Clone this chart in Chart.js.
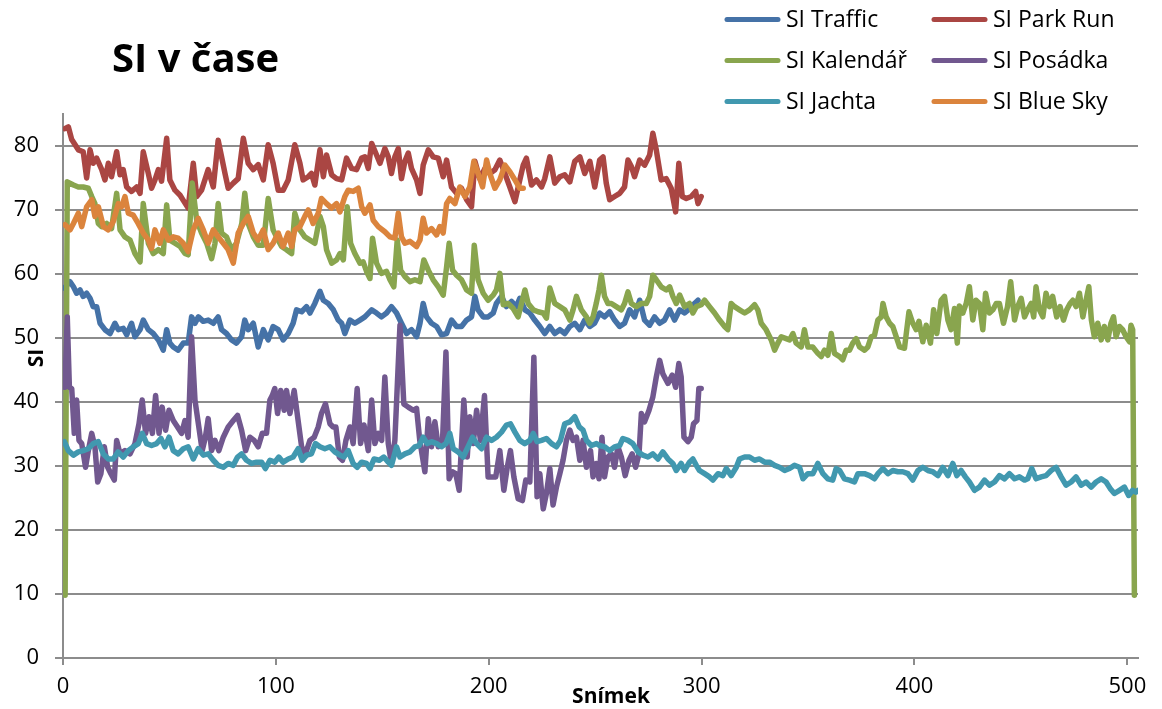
<!DOCTYPE html>
<html>
<head>
<meta charset="utf-8">
<title>SI v čase</title>
<script src="https://cdn.jsdelivr.net/npm/chart.js@4.4.1/dist/chart.umd.min.js"></script>
<style>
  html, body { margin: 0; padding: 0; background: #ffffff; }
  canvas { display: block; }
</style>
</head>
<body>
<canvas id="chart" width="1162" height="709"></canvas>
<script>
// Series labels and line colours
const seriesNames = ['SI Traffic', 'SI Park Run', 'SI Kalendář', 'SI Posádka', 'SI Jachta', 'SI Blue Sky'];
const seriesColors = ['#4572A7', '#AA4643', '#89A54E', '#71588F', '#4198AF', '#DB843D'];

// Axis tick values
const xTickValues = [0, 100, 200, 300, 400, 500];
const yTickValues = [0, 10, 20, 30, 40, 50, 60, 70, 80];

// SI per frame: [frame, SI]
const siTraffic = [[0.6,57.8],[3.3,58.8],[4.9,58.0],[6.4,57.0],[8.0,57.5],[9.5,56.5],[11.1,57.0],[12.7,56.2],[14.2,54.9],[15.8,54.9],[17.4,52.3],[19.7,51.3],[22.1,50.7],[24.4,52.3],[26.0,51.3],[28.3,51.5],[29.9,50.5],[32.2,52.3],[33.8,50.2],[36.2,51.3],[37.7,52.8],[40.1,51.3],[42.4,50.7],[44.8,49.7],[47.1,48.1],[48.7,51.3],[50.2,49.2],[51.8,48.6],[54.1,48.1],[56.5,49.2],[58.8,49.2],[60.4,53.3],[62.0,52.3],[63.6,53.3],[65.9,52.6],[68.2,52.8],[70.6,52.3],[72.9,53.3],[74.5,51.3],[76.8,50.7],[79.2,49.7],[81.5,49.2],[83.9,50.2],[85.4,52.8],[87.0,51.3],[89.4,52.3],[91.7,48.6],[94.1,51.3],[96.4,49.7],[98.7,51.8],[101.1,51.3],[103.4,49.7],[105.8,50.7],[108.1,52.3],[109.7,54.4],[112.1,54.1],[114.4,54.9],[116.0,53.9],[118.3,55.4],[120.7,57.3],[122.3,55.9],[124.6,55.4],[127.0,54.4],[129.3,52.8],[130.9,52.3],[132.4,50.7],[134.8,52.8],[137.1,52.3],[139.5,52.8],[141.8,53.3],[145.0,54.4],[147.3,53.9],[149.6,53.3],[152.0,53.9],[154.3,54.9],[156.7,53.9],[159.0,52.3],[161.4,50.7],[163.7,51.3],[166.1,50.2],[167.7,52.3],[169.2,55.4],[170.8,53.3],[173.1,52.3],[175.5,51.8],[177.8,50.5],[180.2,50.7],[182.5,52.8],[184.9,51.8],[187.2,51.8],[189.6,52.8],[191.9,53.3],[193.5,56.5],[195.0,54.4],[197.4,53.3],[199.7,53.3],[202.1,53.9],[203.6,55.4],[206.0,56.5],[208.3,54.9],[210.7,55.7],[213.0,54.9],[214.6,56.2],[217.0,54.4],[219.3,53.9],[221.6,52.8],[224.0,51.8],[226.3,50.7],[228.7,51.8],[231.0,50.7],[233.4,51.3],[235.7,50.7],[238.1,51.8],[240.4,52.3],[242.8,51.3],[245.1,52.8],[247.5,51.8],[249.7,52.3],[252.1,53.9],[254.4,53.3],[256.8,54.1],[259.1,52.8],[261.5,51.8],[263.8,52.3],[266.2,54.4],[268.5,53.3],[270.9,55.9],[273.2,52.8],[275.6,52.0],[277.9,53.3],[280.3,52.3],[282.6,52.8],[285.0,54.4],[287.3,52.8],[289.7,54.4],[292.0,53.9],[294.4,54.6],[296.7,55.4],[298.3,55.9]];

const siParkRun = [[0.9,82.7],[2.5,83.0],[4.1,81.0],[7.2,79.4],[9.5,79.1],[11.1,75.0],[12.7,79.4],[14.2,77.3],[15.8,78.1],[18.2,76.3],[19.7,74.7],[21.3,77.3],[22.8,75.2],[25.2,79.1],[26.8,75.5],[28.3,76.3],[29.9,73.6],[32.2,72.9],[34.6,73.6],[36.2,72.6],[37.7,79.1],[40.1,75.7],[41.6,73.4],[43.2,74.7],[44.8,76.3],[46.3,74.5],[48.7,81.2],[50.2,74.7],[52.6,73.1],[55.0,72.3],[56.5,71.5],[58.8,70.3],[61.2,77.3],[62.8,72.1],[65.1,73.1],[68.2,76.3],[70.6,73.6],[72.9,80.9],[74.5,78.3],[76.1,75.7],[77.6,73.4],[80.0,74.2],[82.3,74.9],[84.7,81.2],[87.0,77.3],[89.4,76.3],[91.7,77.1],[94.1,74.7],[96.4,80.2],[98.7,77.3],[101.1,73.1],[103.4,73.1],[105.8,74.7],[108.9,80.2],[111.3,77.3],[112.8,74.7],[115.2,75.2],[116.7,75.7],[118.3,73.9],[120.7,79.4],[122.3,75.2],[123.8,78.6],[126.2,75.5],[128.5,74.9],[130.9,74.7],[133.2,78.1],[135.6,76.5],[137.9,76.3],[140.3,78.1],[141.8,78.3],[143.4,76.5],[145.0,80.4],[147.3,78.6],[148.9,77.3],[151.2,79.6],[152.8,78.3],[154.3,75.7],[155.9,78.3],[157.5,79.6],[159.0,74.9],[160.6,77.6],[162.2,78.9],[163.7,76.5],[166.1,74.7],[167.7,72.6],[169.2,77.0],[171.6,79.4],[173.9,78.3],[176.3,78.1],[178.6,75.2],[180.2,77.8],[182.5,73.6],[184.9,72.6],[187.2,73.4],[189.6,71.6],[191.9,70.5],[193.5,77.6],[195.8,74.9],[198.2,76.5],[200.5,75.7],[202.9,76.3],[205.2,77.8],[207.6,75.7],[209.9,73.6],[212.3,71.3],[214.6,74.7],[216.2,77.0],[217.7,78.1],[220.1,73.9],[222.4,74.7],[224.8,73.6],[226.3,74.9],[228.7,78.3],[231.0,74.2],[233.4,75.2],[235.7,75.5],[238.1,74.4],[240.4,77.6],[242.8,78.3],[245.1,75.7],[247.5,77.6],[249.8,73.6],[252.1,77.8],[253.7,78.3],[255.2,74.2],[256.8,71.6],[259.1,72.1],[261.5,72.6],[263.8,73.6],[265.4,77.8],[267.0,76.8],[268.5,75.2],[270.9,77.8],[273.2,77.0],[275.6,78.6],[277.1,82.0],[278.7,79.4],[281.0,74.7],[283.4,74.9],[285.7,73.4],[287.8,69.7],[289.3,77.3],[290.9,72.1],[292.8,71.8],[295.1,72.1],[297.2,72.9],[298.3,71.0],[299.8,72.1]];

const siKalendar = [[1.0,9.8],[2.0,74.4],[4.9,73.9],[7.2,73.6],[9.5,73.6],[11.9,73.4],[13.5,72.1],[15.0,71.0],[16.6,67.9],[18.2,67.4],[20.5,67.9],[22.8,67.1],[25.2,72.6],[26.8,66.9],[29.1,65.8],[31.5,65.3],[33.8,63.2],[36.2,61.9],[37.7,71.0],[40.1,64.8],[42.4,63.2],[44.8,63.8],[47.1,63.2],[48.7,70.8],[50.2,65.3],[52.6,64.8],[55.0,64.3],[57.3,63.2],[58.8,63.0],[60.7,74.2],[62.8,68.4],[65.1,66.4],[67.5,64.8],[69.8,62.4],[71.4,64.8],[72.9,71.0],[74.5,66.4],[76.8,65.8],[79.2,63.8],[81.5,64.8],[84.0,67.9],[85.4,72.6],[87.0,67.9],[89.4,65.8],[91.7,64.5],[94.1,64.5],[96.4,71.8],[98.7,66.9],[100.3,65.8],[102.7,64.3],[105.0,63.8],[107.4,63.2],[108.9,69.5],[111.3,66.9],[113.6,65.8],[116.0,65.3],[118.3,64.8],[120.7,69.0],[122.3,67.4],[123.8,63.8],[126.2,61.7],[128.5,62.2],[130.1,63.2],[131.7,62.2],[133.5,70.5],[135.1,64.8],[137.1,63.2],[139.5,61.7],[141.0,61.9],[142.6,60.4],[144.2,59.3],[145.4,65.6],[147.3,61.7],[149.6,60.1],[152.0,60.4],[153.6,59.1],[155.4,58.0],[157.0,65.3],[158.6,60.6],[160.6,59.6],[163.0,58.8],[165.3,59.1],[167.7,58.8],[169.5,62.2],[171.6,60.6],[173.9,59.1],[176.3,58.0],[178.6,56.7],[180.2,61.1],[181.4,64.8],[183.0,60.6],[184.9,59.8],[187.2,59.1],[189.6,57.5],[191.9,57.0],[193.2,64.5],[195.0,59.1],[197.4,57.0],[199.7,55.9],[202.1,56.7],[203.6,57.5],[205.2,60.1],[206.8,55.2],[209.1,55.4],[211.5,54.6],[213.8,53.3],[215.4,55.4],[217.0,57.5],[218.5,55.4],[220.9,54.4],[223.2,54.1],[225.6,53.9],[227.1,53.1],[228.7,57.8],[231.0,55.4],[233.4,54.9],[235.7,54.4],[238.1,52.8],[239.6,54.4],[241.2,56.5],[243.5,54.4],[245.9,53.3],[247.4,52.3],[249.0,53.3],[250.5,55.4],[251.8,57.5],[252.9,59.8],[254.4,56.5],[256.0,55.4],[257.6,55.4],[259.9,54.9],[262.3,54.4],[263.8,55.4],[265.4,57.2],[267.0,55.4],[269.3,54.9],[271.7,55.4],[274.0,55.4],[275.6,56.5],[277.1,59.8],[278.7,59.1],[281.0,58.0],[283.4,57.5],[285.0,58.0],[286.5,56.5],[288.1,55.4],[289.7,56.7],[292.0,54.9],[294.3,55.4],[295.9,53.9],[297.5,54.9],[299.8,55.2],[301.4,55.9],[303.7,54.9],[306.1,53.9],[308.4,52.8],[310.8,51.8],[312.3,51.3],[313.9,55.4],[315.5,54.9],[317.8,54.4],[320.2,53.9],[322.5,54.4],[324.9,55.2],[326.4,54.4],[328.0,52.3],[330.3,51.3],[332.7,49.7],[334.3,48.1],[335.8,49.2],[337.4,50.2],[339.7,49.9],[341.3,49.7],[342.9,50.7],[344.4,49.2],[346.8,48.6],[348.3,51.3],[349.9,48.6],[352.2,48.6],[354.6,47.6],[356.2,47.1],[357.7,48.1],[359.3,47.3],[360.9,50.7],[362.4,47.6],[364.8,47.1],[366.3,46.6],[367.9,48.1],[369.5,48.1],[371.0,49.2],[372.6,49.9],[374.2,48.6],[376.5,48.1],[378.1,48.6],[379.7,50.2],[381.2,50.4],[382.8,52.8],[384.4,53.3],[385.2,55.4],[386.7,53.3],[388.3,52.3],[389.8,51.8],[391.4,50.2],[393.0,48.6],[395.3,48.4],[397.4,54.1],[399.2,52.3],[400.8,51.3],[402.1,52.6],[403.9,49.4],[405.5,52.0],[407.5,49.2],[409.0,54.4],[410.5,50.7],[412.5,55.9],[414.1,56.5],[415.7,52.8],[417.2,51.3],[418.8,54.6],[420.1,49.2],[421.1,55.0],[422.7,53.9],[424.3,55.4],[425.8,58.0],[427.4,52.8],[428.9,55.9],[430.5,55.4],[432.1,51.3],[433.4,57.0],[435.2,53.9],[436.8,54.4],[438.4,55.4],[439.9,55.4],[441.8,52.3],[443.7,54.9],[445.2,58.8],[447.0,52.8],[448.5,54.9],[450.1,56.2],[451.7,53.3],[453.2,54.4],[454.8,55.4],[456.0,53.3],[457.1,58.0],[458.7,54.4],[460.3,53.3],[461.8,57.0],[463.4,54.9],[464.9,56.5],[466.8,53.3],[468.4,54.9],[470.0,52.8],[471.5,54.4],[473.1,55.4],[474.4,55.9],[475.9,54.9],[477.5,57.0],[479.1,53.3],[480.6,55.9],[481.9,58.0],[483.1,52.8],[484.5,50.2],[486.1,52.3],[487.7,49.7],[489.2,51.8],[490.8,49.7],[492.3,52.3],[493.5,53.3],[494.7,50.2],[496.3,51.8],[497.8,51.3],[499.4,50.2],[501.0,49.4],[501.7,52.0],[502.5,51.3],[503.3,9.8]];

const siPosadka = [[0.9,42.3],[2.0,53.3],[3.0,42.3],[4.1,42.1],[5.3,35.1],[6.4,40.3],[7.5,34.0],[8.8,33.5],[10.6,29.8],[11.9,32.4],[13.5,35.1],[15.0,33.0],[16.3,27.5],[17.8,28.8],[19.4,33.0],[21.0,29.8],[22.5,28.8],[24.1,27.8],[25.2,34.0],[26.8,31.9],[29.1,32.4],[31.5,31.9],[33.8,33.5],[35.7,36.6],[37.2,40.3],[38.8,35.1],[40.4,37.7],[42.0,35.1],[43.5,41.0],[45.1,35.1],[46.6,39.2],[48.2,35.6],[49.8,38.7],[51.8,37.1],[53.8,36.1],[55.7,35.1],[57.3,37.1],[58.8,34.5],[60.4,50.2],[62.0,40.3],[63.8,36.1],[65.4,32.4],[66.9,34.5],[68.2,37.4],[69.8,32.4],[71.4,34.0],[73.2,32.4],[75.3,34.5],[77.6,36.1],[80.0,37.1],[82.0,37.9],[83.9,35.6],[85.8,32.4],[87.8,34.5],[89.8,34.0],[91.7,33.0],[93.6,35.1],[95.6,35.1],[97.2,40.3],[98.3,41.0],[99.5,42.1],[100.8,38.2],[102.3,41.8],[103.9,38.7],[105.0,41.8],[106.6,38.2],[108.6,41.8],[110.2,37.7],[112.1,33.0],[113.9,31.9],[116.0,34.0],[118.0,34.5],[119.9,36.1],[121.4,38.2],[123.3,39.7],[125.4,36.6],[126.9,36.1],[128.2,36.1],[129.8,31.4],[131.3,30.9],[132.9,34.0],[134.8,36.1],[136.3,33.5],[138.2,42.1],[139.8,33.5],[141.4,36.4],[143.4,32.4],[145.0,40.3],[146.5,33.5],[148.1,35.1],[149.7,34.0],[151.2,43.9],[152.8,33.5],[154.3,30.4],[155.9,34.0],[158.3,52.0],[160.1,39.7],[162.2,39.2],[164.5,38.7],[166.1,39.0],[167.6,34.0],[170.0,29.1],[171.6,37.4],[173.1,33.0],[174.7,36.9],[176.3,33.0],[178.3,34.0],[179.9,47.8],[181.4,28.0],[183.0,29.1],[184.5,28.8],[186.1,26.2],[188.3,40.3],[189.9,31.4],[191.1,37.7],[192.7,33.5],[194.3,38.7],[196.1,34.0],[198.0,41.0],[199.7,28.3],[201.3,28.3],[203.3,28.3],[205.2,32.4],[207.1,26.2],[208.7,29.8],[210.2,32.4],[211.8,28.3],[213.8,24.9],[215.8,24.6],[217.4,27.8],[219.3,27.5],[221.2,47.0],[222.7,25.2],[224.0,28.8],[225.6,23.3],[227.1,25.7],[228.7,29.6],[230.2,23.9],[231.8,26.7],[233.4,28.8],[234.9,30.9],[236.5,34.0],[238.1,35.6],[239.6,34.0],[241.2,34.5],[242.8,30.9],[244.3,34.0],[245.9,29.8],[247.8,32.4],[249.0,28.3],[250.5,30.4],[251.8,28.0],[253.2,34.5],[254.4,28.3],[256.0,31.4],[257.6,31.9],[259.1,29.8],[260.7,33.0],[262.3,31.4],[264.1,28.5],[265.9,30.9],[267.4,31.9],[269.0,29.8],[270.6,31.9],[271.7,38.2],[273.2,36.9],[275.3,38.7],[277.1,40.8],[278.7,43.9],[280.3,46.5],[281.8,44.4],[284.2,42.9],[286.2,44.2],[287.8,42.3],[289.3,46.0],[290.4,43.9],[291.7,34.5],[293.6,33.8],[295.1,34.5],[296.2,36.6],[297.8,37.1],[298.7,42.1],[299.8,42.1]];

const siJachta = [[0.6,33.8],[2.5,32.4],[4.9,31.7],[7.2,32.2],[9.5,32.4],[11.9,32.7],[14.2,33.5],[16.6,33.8],[18.9,31.9],[21.3,31.1],[23.6,31.1],[25.9,32.2],[28.3,31.4],[30.7,32.4],[33.0,33.0],[35.4,33.5],[37.2,35.1],[39.3,33.5],[41.6,33.2],[44.0,33.5],[46.0,34.3],[47.9,33.0],[49.8,34.5],[51.8,32.4],[54.1,31.9],[56.5,32.7],[58.8,33.0],[61.2,31.1],[63.5,32.7],[65.9,31.7],[68.2,31.9],[70.6,30.9],[72.9,30.1],[75.3,29.8],[77.6,30.4],[80.0,30.1],[82.0,31.4],[83.9,31.9],[86.2,30.9],[88.6,30.4],[90.9,30.6],[93.3,30.6],[95.1,29.6],[97.2,30.9],[99.5,30.6],[101.4,31.4],[103.4,30.6],[105.8,31.1],[108.1,31.4],[110.5,32.7],[112.4,30.9],[114.4,31.7],[116.7,31.9],[118.6,33.5],[120.7,33.0],[123.0,32.7],[125.4,33.0],[127.7,32.2],[130.1,31.7],[132.0,31.4],[134.0,32.4],[136.3,30.4],[138.2,29.8],[140.3,30.6],[142.6,30.4],[144.2,29.6],[146.1,31.1],[148.6,30.9],[150.7,31.4],[152.8,30.6],[154.3,30.1],[156.7,33.0],[158.3,31.4],[160.6,31.9],[163.0,32.2],[165.3,33.0],[167.3,33.2],[169.2,34.5],[171.1,33.5],[173.1,33.8],[175.5,33.5],[177.8,33.0],[179.9,33.5],[181.7,35.1],[183.3,32.7],[185.6,32.2],[188.0,31.4],[190.3,33.0],[192.4,34.5],[194.3,33.5],[196.6,32.7],[199.0,34.5],[201.3,34.0],[203.6,34.5],[206.0,35.3],[208.3,36.4],[210.2,36.6],[212.3,35.3],[214.6,34.0],[216.9,33.5],[219.3,34.0],[220.9,35.1],[222.7,33.8],[224.8,34.0],[227.1,34.3],[229.5,33.5],[231.8,33.0],[233.7,34.0],[235.7,36.6],[238.1,36.9],[240.4,37.7],[242.5,36.1],[244.3,35.6],[245.9,34.0],[248.2,33.2],[250.6,33.5],[252.1,33.2],[254.4,33.0],[256.8,32.4],[259.1,33.0],[261.5,33.2],[263.0,34.3],[265.4,34.0],[267.7,33.5],[270.1,32.2],[272.4,31.7],[274.8,31.4],[277.1,31.9],[279.5,31.1],[281.8,32.2],[284.2,31.1],[286.5,30.4],[288.1,29.3],[290.4,30.4],[292.0,29.3],[294.3,30.6],[295.9,31.1],[297.5,30.1],[299.0,29.3],[301.4,28.8],[303.7,28.3],[305.3,27.8],[307.7,28.8],[310.0,28.5],[311.6,29.6],[313.9,28.5],[316.3,29.8],[317.8,31.1],[320.2,31.4],[322.5,31.4],[324.9,30.9],[327.2,31.1],[329.6,30.6],[331.9,30.6],[334.3,30.1],[336.6,29.8],[339.0,29.3],[341.3,29.6],[343.6,30.1],[346.0,29.8],[347.6,28.0],[349.9,28.8],[352.3,28.8],[354.6,30.4],[357.0,28.8],[359.3,28.0],[361.6,27.8],[363.2,29.6],[364.8,29.3],[367.1,28.0],[369.5,27.8],[371.8,27.5],[373.4,28.8],[376.5,28.8],[378.9,28.5],[381.2,28.0],[382.8,28.8],[385.2,29.6],[387.5,28.8],[389.8,29.3],[392.2,29.1],[394.5,29.1],[396.9,28.8],[399.2,27.8],[401.6,29.3],[403.9,29.8],[406.3,29.3],[408.6,29.1],[411.0,28.5],[413.3,29.8],[415.7,28.5],[418.0,30.4],[419.9,28.5],[421.9,29.3],[423.9,28.3],[425.8,27.5],[428.2,26.2],[430.5,26.7],[432.9,27.8],[435.2,27.0],[437.6,27.5],[439.9,28.5],[442.3,28.0],[444.6,28.8],[447.0,28.0],[449.3,28.3],[451.7,27.8],[453.2,28.0],[455.1,29.6],[457.1,28.0],[459.5,28.3],[461.8,28.5],[464.2,29.3],[466.5,29.8],[468.9,28.3],[471.2,27.0],[473.6,27.5],[475.9,28.3],[478.3,27.0],[480.6,27.5],[483.0,26.7],[485.3,27.5],[487.7,28.0],[490.0,27.5],[491.9,26.5],[493.9,25.7],[496.3,26.2],[498.6,26.7],[500.6,25.4],[502.5,26.2],[504.0,25.9],[505.0,26.2]];

const siBlueSky = [[0.9,67.7],[3.3,66.9],[4.9,67.9],[7.2,69.5],[8.8,67.4],[11.1,70.5],[13.5,71.6],[15.0,69.0],[16.6,70.5],[19.0,67.4],[21.3,66.9],[23.6,68.2],[26.0,71.0],[27.5,70.5],[29.1,72.1],[30.7,69.5],[33.0,69.2],[35.3,67.9],[37.7,66.4],[40.1,65.3],[41.6,64.0],[43.2,66.9],[45.5,64.8],[47.1,66.9],[49.5,65.3],[51.8,65.8],[54.1,65.6],[56.5,64.8],[58.8,63.5],[61.2,66.9],[63.5,68.7],[65.9,66.9],[68.2,64.8],[70.6,66.9],[72.9,65.8],[75.3,64.8],[77.6,63.8],[80.0,61.7],[82.3,66.4],[84.7,67.9],[87.0,69.0],[89.4,66.4],[91.7,65.3],[94.1,66.9],[96.4,63.8],[98.7,64.8],[101.1,66.4],[103.4,64.3],[105.8,66.4],[107.4,64.3],[108.9,66.9],[111.3,67.4],[113.6,69.0],[115.2,70.0],[117.5,67.9],[119.9,69.5],[121.4,71.8],[123.8,71.0],[126.2,70.3],[128.5,71.0],[130.1,69.7],[132.4,72.1],[134.0,73.1],[136.3,72.9],[138.7,73.4],[140.3,70.5],[141.8,69.5],[144.2,70.8],[145.7,68.4],[148.1,67.4],[151.2,66.6],[153.6,65.8],[155.9,65.6],[157.5,69.5],[159.0,65.8],[160.6,64.8],[163.0,65.1],[166.1,64.3],[167.7,65.3],[169.2,68.7],[170.8,66.4],[173.1,67.1],[175.5,66.1],[177.0,67.4],[178.6,66.4],[180.2,71.0],[181.7,71.8],[184.1,71.0],[186.4,73.6],[188.8,72.1],[191.1,73.6],[193.0,77.6],[195.0,75.7],[197.1,73.6],[199.0,77.8],[200.5,75.7],[202.9,73.4],[205.2,74.7],[207.6,77.0],[209.9,76.0],[212.3,74.7],[214.6,73.4],[216.2,73.4]];

const seriesPoints = [siTraffic, siParkRun, siKalendar, siPosadka, siJachta, siBlueSky];

const FONT = '"Open Sans", "DejaVu Sans", sans-serif';
Chart.defaults.font.family = FONT;
Chart.defaults.color = '#000000';

const gridGray = '#8c8c8c';

// Title, axis titles and the two-column legend
const annotations = {
  id: 'annotations',
  afterDraw(chart) {
    const ctx = chart.ctx;
    ctx.save();
    ctx.fillStyle = '#000000';

    // chart title
    ctx.font = 'bold 40px ' + FONT;
    ctx.textAlign = 'left';
    ctx.textBaseline = 'alphabetic';
    ctx.fillText('SI v čase', 112, 72);

    // y axis title
    ctx.font = 'bold 21px ' + FONT;
    ctx.save();
    ctx.translate(37, 358);
    ctx.rotate(-Math.PI / 2);
    ctx.textAlign = 'center';
    ctx.textBaseline = 'middle';
    ctx.fillText('SI', 0, 0);
    ctx.restore();

    // x axis title
    ctx.textAlign = 'center';
    ctx.textBaseline = 'middle';
    ctx.fillText('Snímek', 611, 697);

    // legend
    const colX = [727, 934];
    const rowY = [19.5, 60.5, 101.5];
    ctx.font = '23px ' + FONT;
    ctx.textAlign = 'left';
    ctx.textBaseline = 'middle';
    seriesNames.forEach((name, i) => {
      const cx = colX[i % 2];
      const cy = rowY[Math.floor(i / 2)];
      ctx.strokeStyle = seriesColors[i];
      ctx.lineWidth = 5;
      ctx.lineCap = 'round';
      ctx.beginPath();
      ctx.moveTo(cx, cy);
      ctx.lineTo(cx + 51, cy);
      ctx.stroke();
      ctx.fillStyle = '#000000';
      ctx.fillText(name, cx + 59, cy + 1);
    });
    ctx.restore();
  }
};

const chart = new Chart(document.getElementById('chart'), {
  type: 'line',
  data: {
    datasets: seriesNames.map((name, i) => ({
      label: name,
      data: seriesPoints[i].map(([x, y]) => ({ x, y })),
      borderColor: seriesColors[i],
      backgroundColor: seriesColors[i],
      borderWidth: 5.5,
      borderCapStyle: 'round',
      borderJoinStyle: 'round',
      pointRadius: 0,
      tension: 0,
      fill: false,
      order: seriesNames.length - 1 - i
    }))
  },
  options: {
    responsive: false,
    animation: false,
    events: [],
    layout: { padding: { left: 0, top: 114, right: 24, bottom: 0 } },
    plugins: {
      legend: { display: false },
      title: { display: false },
      tooltip: { enabled: false }
    },
    scales: {
      x: {
        type: 'linear',
        min: 0,
        max: 505,
        afterBuildTicks: (scale) => { scale.ticks = xTickValues.map(v => ({ value: v })); },
        afterFit: (scale) => { scale.height = 51; },
        grid: { display: true, drawOnChartArea: false, drawTicks: true, tickLength: 7, color: gridGray, lineWidth: 2 },
        border: { display: true, color: gridGray, width: 2 },
        ticks: { font: { size: 22 }, color: '#000000', padding: 9, maxRotation: 0, autoSkip: false }
      },
      y: {
        type: 'linear',
        min: 0,
        max: 85,
        afterBuildTicks: (scale) => { scale.ticks = yTickValues.map(v => ({ value: v })); },
        afterFit: (scale) => { scale.width = 63; },
        grid: { display: true, drawOnChartArea: true, drawTicks: true, tickLength: 8, color: gridGray, lineWidth: 2 },
        border: { display: true, color: gridGray, width: 2 },
        ticks: { font: { size: 22 }, color: '#000000', padding: 16, autoSkip: false }
      }
    }
  },
  plugins: [annotations]
});
</script>
</body>
</html>
